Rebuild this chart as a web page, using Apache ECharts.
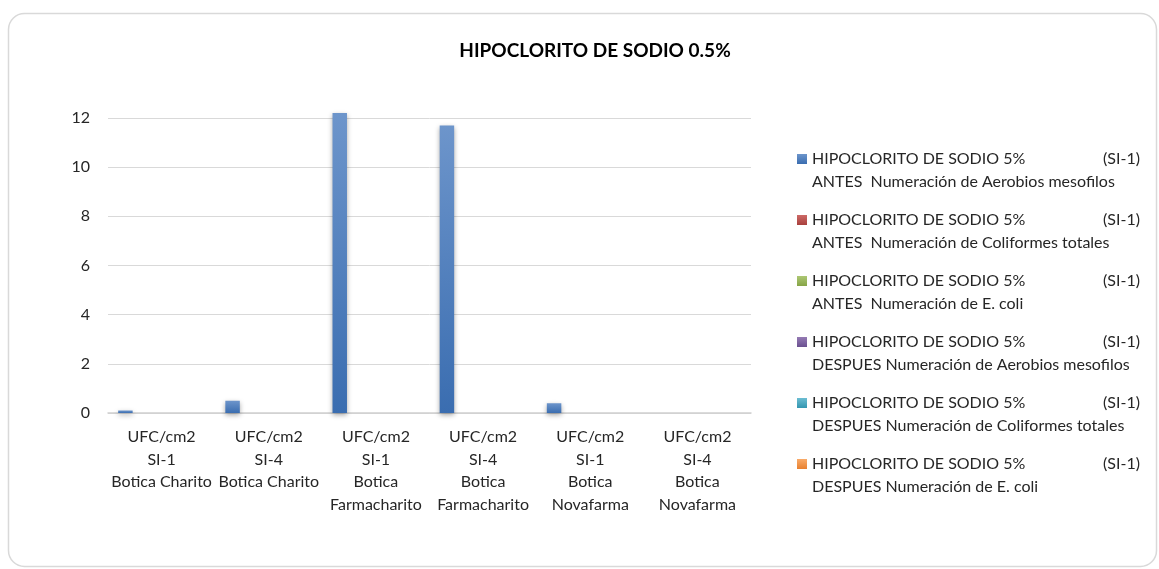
<!DOCTYPE html>
<html>
<head>
<meta charset="utf-8">
<script src="https://cdn.jsdelivr.net/npm/echarts@6/dist/echarts.min.js"></script>
<style>
  html, body { margin: 0; padding: 0; background: #fff; }
  #chart { width: 1159px; height: 569px; }
</style>
</head>
<body>
<div id="chart"></div>
<script>
const categories = [
  "UFC/cm2\nSI-1\nBotica Charito",
  "UFC/cm2\nSI-4\nBotica Charito",
  "UFC/cm2\nSI-1\nBotica\nFarmacharito",
  "UFC/cm2\nSI-4\nBotica\nFarmacharito",
  "UFC/cm2\nSI-1\nBotica\nNovafarma",
  "UFC/cm2\nSI-4\nBotica\nNovafarma"
];
const antesAerobios = [0.1, 0.5, 12.2, 11.7, 0.4, 0];
const antesColiformes = [0, 0, 0, 0, 0, 0];
const antesEcoli = [0, 0, 0, 0, 0, 0];
const despuesAerobios = [0, 0, 0, 0, 0, 0];
const despuesColiformes = [0, 0, 0, 0, 0, 0];
const despuesEcoli = [0, 0, 0, 0, 0, 0];
const yTicks = [0, 12, 2];

const seriesNames = [
  "ANTES  Numeración de Aerobios mesofilos",
  "ANTES  Numeración de Coliformes totales",
  "ANTES  Numeración de E. coli",
  "DESPUES Numeración de Aerobios mesofilos",
  "DESPUES Numeración de Coliformes totales",
  "DESPUES Numeración de E. coli"
];
const seriesData = [antesAerobios, antesColiformes, antesEcoli, despuesAerobios, despuesColiformes, despuesEcoli];
// light (top) / dark (bottom) of each excel gradient
const colors = [
  ["#6d95cb", "#3a6db0"],
  ["#cd6a67", "#a8403d"],
  ["#adc774", "#86a446"],
  ["#957bb4", "#6a5090"],
  ["#6cbdd2", "#3396b0"],
  ["#f9ab6a", "#e8802f"]
];
const font = "Lato, 'Open Sans', sans-serif";

const chart = echarts.init(document.getElementById("chart"));

const option = {
  backgroundColor: "#fff",
  textStyle: { fontFamily: font },
  title: {
    text: "HIPOCLORITO DE SODIO 0.5%",
    left: 590,
    top: 36,
    textAlign: "center",
    textStyle: { fontFamily: font, fontSize: 19, fontWeight: "bold", color: "#000" }
  },
  graphic: [{
    type: "rect",
    shape: { x: 8.5, y: 13.5, width: 1148, height: 553, r: 16 },
    style: { fill: "none", stroke: "#d9d9d9", lineWidth: 1.5 },
    silent: true
  }],
  legend: {
    orient: "vertical",
    left: 792,
    top: 146,
    itemWidth: 10,
    itemHeight: 10,
    itemGap: 22,
    icon: "rect",
    itemStyle: { shadowBlur: 0 },
    data: seriesNames,
    formatter: function (name) {
      return "{a|HIPOCLORITO DE SODIO 5%}{b|(SI-1)}\n{c|" + name + "}";
    },
    textStyle: {
      fontFamily: font,
      fontSize: 16,
      color: "#262626",
      padding: [23, 0, 0, 0],
      rich: {
        a: { fontFamily: font, fontSize: 16, color: "#262626", width: 291, lineHeight: 23 },
        b: { fontFamily: font, fontSize: 16, color: "#262626", lineHeight: 23 },
        c: { fontFamily: font, fontSize: 16, color: "#262626", lineHeight: 23 }
      }
    }
  },
  grid: { left: 108, right: 408, top: 118, bottom: 156 },
  xAxis: {
    type: "category",
    data: categories,
    axisTick: { show: false },
    axisLine: { lineStyle: { color: "#d0d0d0", width: 1.5 } },
    axisLabel: {
      interval: 0,
      margin: 13,
      fontFamily: font,
      fontSize: 16,
      lineHeight: 22.5,
      color: "#262626"
    }
  },
  yAxis: {
    type: "value",
    min: yTicks[0],
    max: yTicks[1],
    interval: yTicks[2],
    axisLine: { show: false },
    axisTick: { show: false },
    splitLine: { lineStyle: { color: "#d9d9d9", width: 1 } },
    axisLabel: { fontFamily: font, fontSize: 16, color: "#262626", margin: 18 }
  },
  series: seriesNames.map(function (name, i) {
    return {
      name: name,
      type: "bar",
      data: seriesData[i],
      clip: false,
      barGap: "0%",
      barCategoryGap: "19%",
      itemStyle: {
        color: new echarts.graphic.LinearGradient(0, 0, 0, 1, [
          { offset: 0, color: colors[i][0] },
          { offset: 1, color: colors[i][1] }
        ]),
        shadowBlur: 5,
        shadowColor: "rgba(0,0,0,0.35)",
        shadowOffsetY: 2
      }
    };
  })
};

chart.setOption(option);
</script>
</body>
</html>
